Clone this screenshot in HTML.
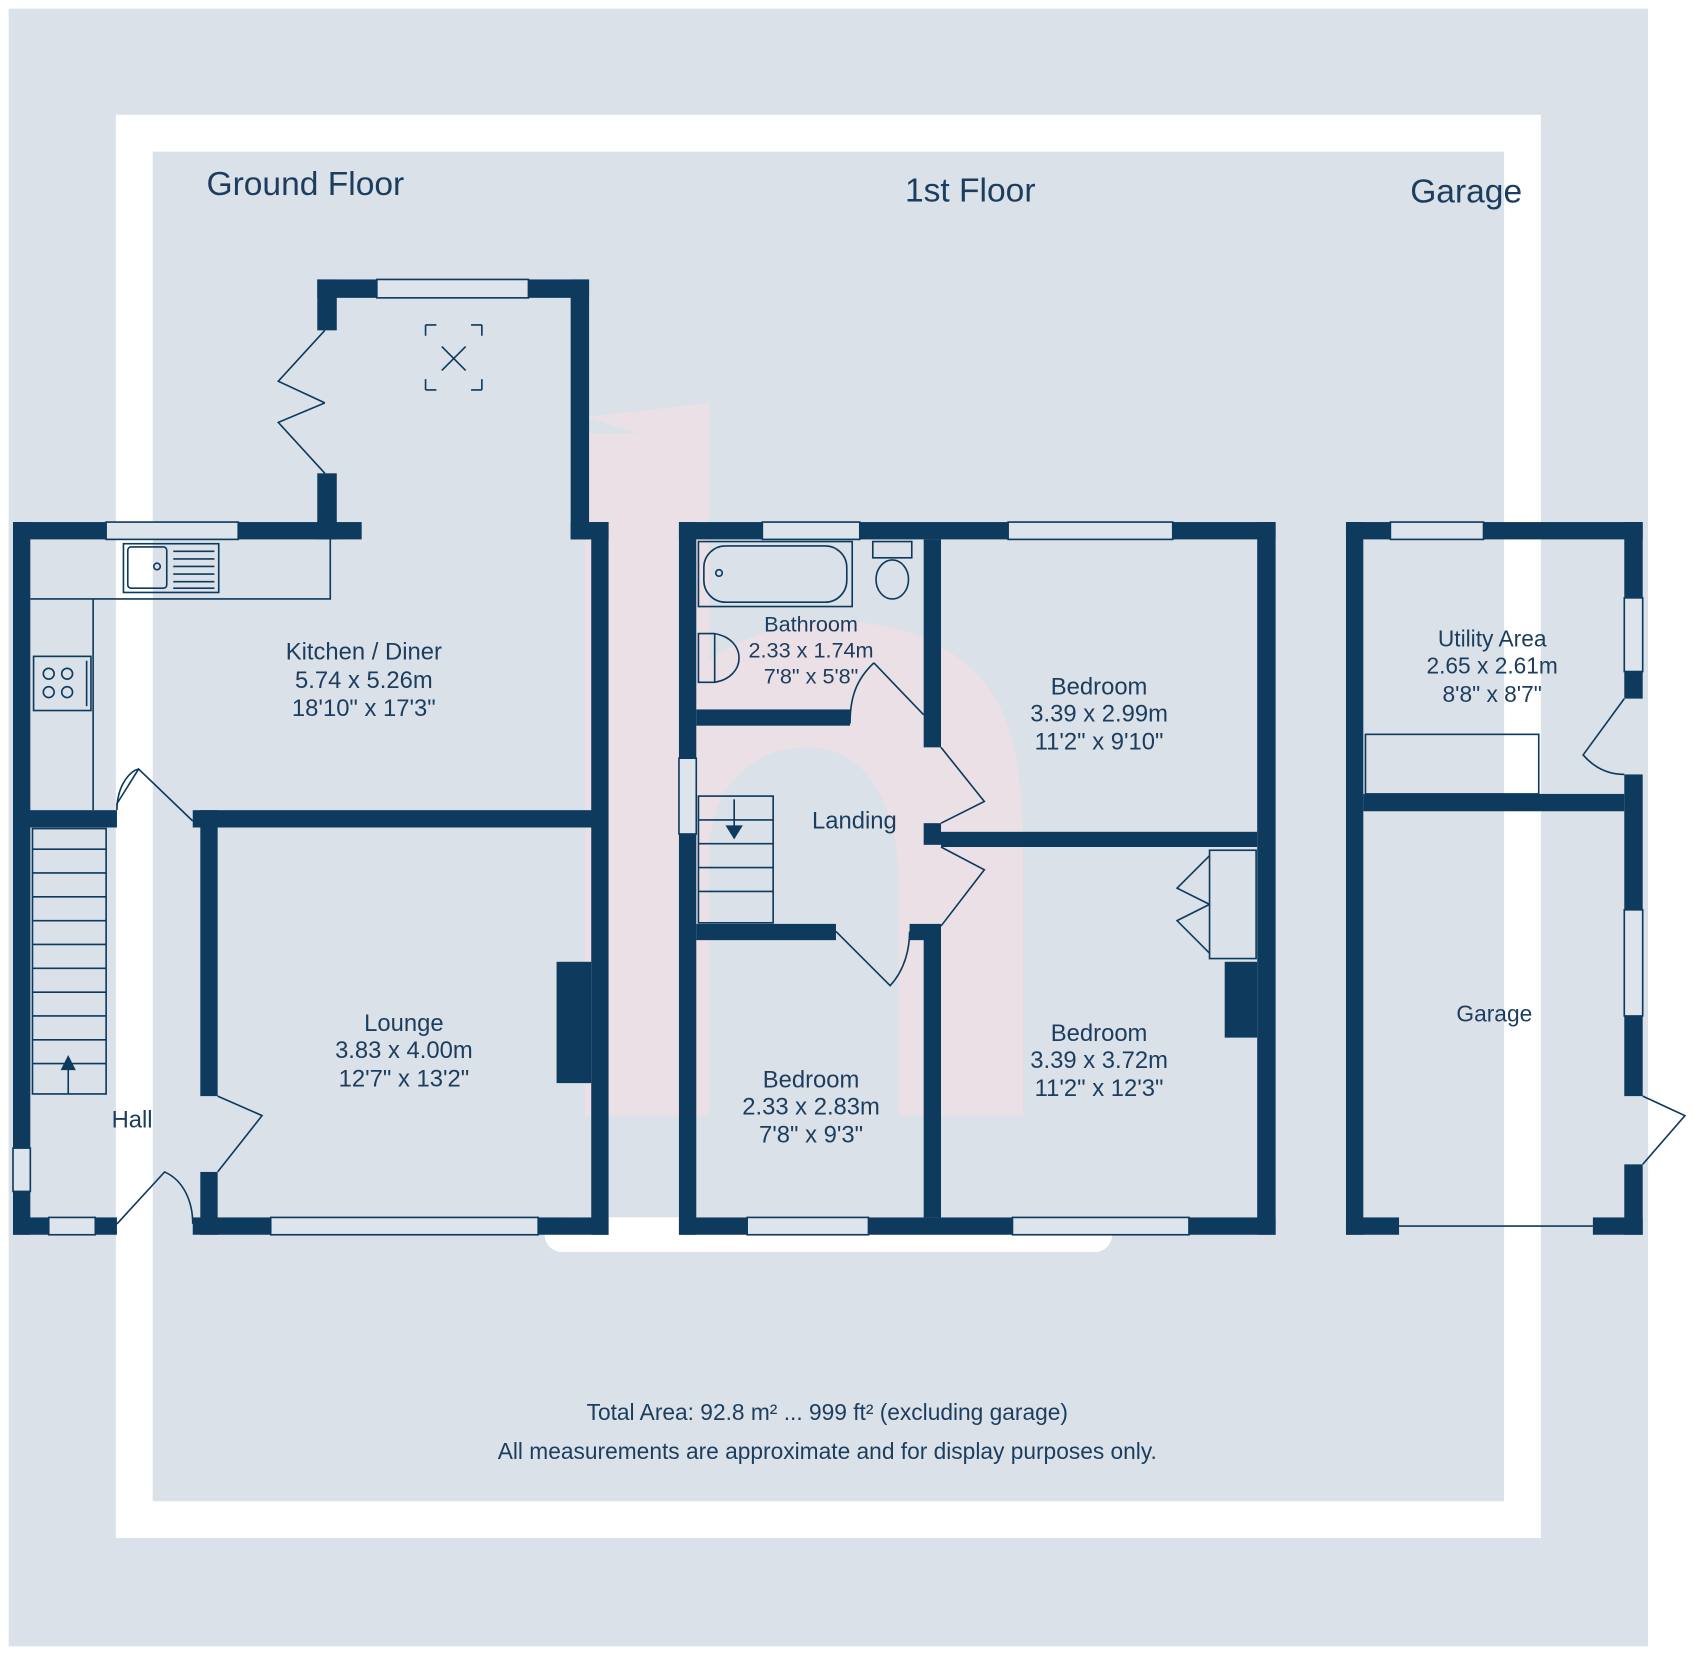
<!DOCTYPE html>
<html><head><meta charset="utf-8"><style>
html,body{margin:0;padding:0;background:#fff;}
svg{display:block;}
text{font-family:"Liberation Sans",sans-serif;fill:#1c3d5e;}
</style></head><body>
<svg width="1699" height="1655" viewBox="0 0 1569 1528" preserveAspectRatio="none" xmlns="http://www.w3.org/2000/svg">
<rect x="0" y="0" width="1569" height="1528" fill="#fff"/>
<rect x="8" y="8" width="1514" height="1512" fill="#dae1e8"/>
<path d="M107 106H1423V1420H107Z M141 140V1386H1389V140Z" fill="#fff" fill-rule="evenodd"/>
<rect x="107" y="498" width="34" height="630" fill="#fff" opacity="0.75"/>
<!-- watermark -->
<g fill="#f5dfe3" opacity="0.65">
<path d="M540 385 L655 372 V610 C720 560 840 560 900 620 C940 660 945 720 945 800 V1030 H830 V820 C830 740 800 690 745 690 C700 690 660 720 655 780 V1030 H540 V400 L590 400 Z"/>
</g>
<rect x="503" y="1124" width="524" height="32" rx="16" fill="#fff"/>

<g fill="#0e3a5e">
<rect x="12" y="482" width="16" height="658"/>
<rect x="12" y="482" width="322" height="16"/>
<rect x="293" y="258" width="18" height="47"/>
<rect x="293" y="437" width="18" height="61"/>
<rect x="293" y="258" width="251" height="17"/>
<rect x="527" y="258" width="17" height="240"/>
<rect x="527" y="482" width="35" height="16"/>
<rect x="546" y="482" width="16" height="658"/>
<rect x="178" y="748" width="370" height="16"/>
<rect x="12" y="748" width="96" height="16"/>
<rect x="185" y="748" width="16" height="264"/>
<rect x="185" y="1082" width="16" height="58"/>
<rect x="12" y="1124" width="96" height="16"/>
<rect x="178" y="1124" width="384" height="16"/>
<rect x="514" y="888" width="32" height="112"/>
<rect x="627" y="482" width="16" height="658"/>
<rect x="627" y="482" width="551" height="16"/>
<rect x="1161" y="482" width="17" height="658"/>
<rect x="627" y="1124" width="551" height="16"/>
<rect x="643" y="655" width="142" height="15"/>
<rect x="853" y="498" width="16" height="192"/>
<rect x="853" y="760" width="16" height="20"/>
<rect x="853" y="855" width="16" height="269"/>
<rect x="869" y="768" width="292" height="14"/>
<rect x="643" y="853" width="129" height="15"/>
<rect x="840" y="853" width="29" height="15"/>
<rect x="1131" y="888" width="30" height="70"/>
<rect x="1243" y="482" width="16" height="658"/>
<rect x="1243" y="482" width="274" height="16"/>
<rect x="1500" y="482" width="17" height="163"/>
<rect x="1500" y="715" width="17" height="297"/>
<rect x="1500" y="1075" width="17" height="65"/>
<rect x="1259" y="733" width="241" height="16"/>
<rect x="1243" y="1124" width="49" height="16"/>
<rect x="1471" y="1124" width="46" height="16"/>
</g>

<g fill="#dde4eb" stroke="#0e3a5e" stroke-width="1.5">
<rect x="98" y="482" width="122" height="16"/>
<rect x="348" y="258" width="140" height="17"/>
<rect x="45" y="1124" width="43" height="16"/>
<rect x="250" y="1124" width="247" height="16"/>
<rect x="12" y="1060" width="16" height="40"/>
<rect x="704" y="482" width="90" height="16"/>
<rect x="931" y="482" width="152" height="16"/>
<rect x="690" y="1124" width="112" height="16"/>
<rect x="935" y="1124" width="163" height="16"/>
<rect x="627" y="700" width="16" height="70"/>
<rect x="1284" y="482" width="86" height="16"/>
<rect x="1500" y="552" width="17" height="68"/>
<rect x="1500" y="840" width="17" height="98"/>
</g>

<g fill="none" stroke="#0e3a5e" stroke-width="1.5">
<path d="M28 553 H86 V748 M86 553 H305 V498"/>
<rect x="114" y="502" width="88" height="45"/>
<rect x="118" y="505" width="36" height="38" rx="3"/>
<circle cx="145" cy="523" r="3"/>
<path d="M160 509H198M160 516H198M160 523H198M160 530H198M160 537H198M160 543H198"/>
<rect x="31" y="606" width="53" height="50"/>
<circle cx="45" cy="622" r="5"/><circle cx="62" cy="622" r="5"/><circle cx="45" cy="639" r="5"/><circle cx="62" cy="639" r="5"/>
<path d="M80 610V652"/>
<path d="M393 300V310M393 300H403M445 300H435M445 300V310M393 360V350M393 360H403M445 360H435M445 360V350M408 320L430 342M430 320L408 342"/>
<path d="M300 305 L257 352 L300 372 M300 437 L257 390 L300 372"/>
<rect x="30" y="765" width="68" height="245"/>
<path d="M30 784H98M30 806H98M30 828H98M30 850H98M30 872H98M30 894H98M30 916H98M30 938H98M30 960H98M30 982H98"/>
<path d="M63 1010V980"/>
<path d="M108 748 V742 L128 710 L178 758 M108 748 C108 725 120 712 128 710"/>
<path d="M201 1012 L242 1030 L201 1082"/>
<path d="M108 1130 L152 1082 C170 1090 178 1110 178 1130"/>
<rect x="645" y="500" width="142" height="60"/>
<rect x="650" y="504" width="132" height="52" rx="20"/>
<circle cx="664" cy="529" r="3"/>
<rect x="806" y="500" width="36" height="15"/>
<ellipse cx="824" cy="535" rx="15" ry="18"/>
<path d="M645 585 H660 C690 590 690 625 660 630 H645 Z"/>
<path d="M660 585V630"/>
<path d="M807 612 L853 660 M807 612 C790 628 785 645 785 668"/>
<path d="M869 690 L909 740 L869 760"/>
<path d="M869 782 L909 803 L869 855"/>
<path d="M772 860 L822 910 C836 895 840 875 840 860"/>
<rect x="645" y="735" width="69" height="117"/>
<path d="M645 757H714M645 779H714M645 801H714M645 823H714"/>
<path d="M678 738V770"/>
<rect x="1117" y="785" width="43" height="100"/>
<path d="M1117 790 L1087 820 L1117 835 M1117 880 L1087 850 L1117 835"/>
<rect x="1261" y="678" width="160" height="55"/>
<path d="M1500 645 L1462 697 C1475 712 1490 715 1500 715"/>
<path d="M1517 1012 L1556 1030 L1517 1075"/>
<path d="M1292 1132 H1471"/>
</g>
<path d="M63 974 L56 988 H70 Z" fill="#0e3a5e"/>
<path d="M678 775 L670 762 H686 Z" fill="#0e3a5e"/>

<g font-size="22" text-anchor="middle">
<text x="336" y="609">Kitchen / Diner</text>
<text x="336" y="635">5.74 x 5.26m</text>
<text x="336" y="661">18'10" x 17'3"</text>
<text x="373" y="952">Lounge</text>
<text x="373" y="977">3.83 x 4.00m</text>
<text x="373" y="1003">12'7" x 13'2"</text>
<text x="122" y="1041">Hall</text>
<text x="749" y="583" font-size="20">Bathroom</text>
<text x="749" y="607" font-size="20">2.33 x 1.74m</text>
<text x="749" y="631" font-size="20">7'8" x 5'8"</text>
<text x="789" y="765">Landing</text>
<text x="1015" y="641">Bedroom</text>
<text x="1015" y="666">3.39 x 2.99m</text>
<text x="1015" y="692">11'2" x 9'10"</text>
<text x="1015" y="961">Bedroom</text>
<text x="1015" y="986">3.39 x 3.72m</text>
<text x="1015" y="1012">11'2" x 12'3"</text>
<text x="749" y="1004">Bedroom</text>
<text x="749" y="1029">2.33 x 2.83m</text>
<text x="749" y="1055">7'8" x 9'3"</text>
<text x="1378" y="597" font-size="21">Utility Area</text>
<text x="1378" y="622" font-size="21">2.65 x 2.61m</text>
<text x="1378" y="648" font-size="21">8'8" x 8'7"</text>
<text x="1380" y="943" font-size="21">Garage</text>
<text x="282" y="180" font-size="31">Ground Floor</text>
<text x="896" y="186" font-size="31">1st Floor</text>
<text x="1354" y="187" font-size="31">Garage</text>
<text x="764" y="1311" font-size="21">Total Area: 92.8 m² ... 999 ft² (excluding garage)</text>
<text x="764" y="1347" font-size="21">All measurements are approximate and for display purposes only.</text>
</g>
</svg>
</body></html>
